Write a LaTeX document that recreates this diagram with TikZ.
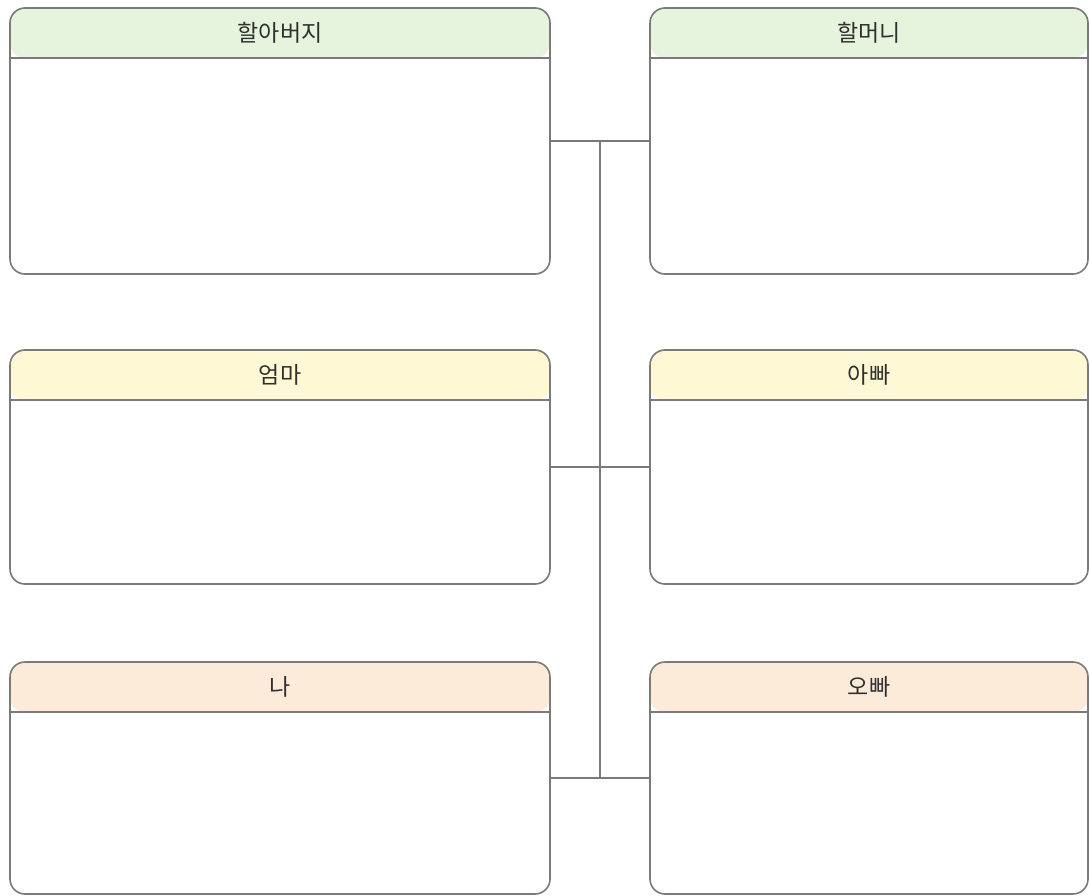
\documentclass[tikz,border=0pt]{standalone}
\usepackage{fontspec}
\newfontfamily\kr{Noto Sans CJK KR}[Scale=1]
\usetikzlibrary{calc}
\definecolor{hgreen}{HTML}{E6F4DE}
\definecolor{hyellow}{HTML}{FFF8D4}
\definecolor{hpeach}{HTML}{FDEBDA}
\definecolor{edge}{HTML}{7A7A7A}
\definecolor{txt}{HTML}{303030}
\tikzset{
  card/.style n args={3}{draw=edge, line width=1.6pt, fill=white, rounded corners=15pt,
    minimum width=#1, minimum height=#2, inner sep=0pt,
    path picture={\fill[#3] (path picture bounding box.north west) rectangle ([yshift=-50pt]path picture bounding box.north east);
      \draw[edge, line width=1.6pt] ([yshift=-50pt]path picture bounding box.north west) -- ([yshift=-50pt]path picture bounding box.north east);}},
  title/.style={font=\kr\fontsize{23}{26}\selectfont, text=txt, anchor=center, inner sep=0pt},
  link/.style={draw=edge, line width=1.4pt}
}
\begin{document}
\begin{tikzpicture}[x=1pt,y=-1pt]
\useasboundingbox (0,0) rectangle (1090,896);
% row 1
\node[card={540pt}{266pt}{hgreen}] (gf) at (280,141) {};
\node[card={438pt}{266pt}{hgreen}] (gm) at (869,141) {};
% row 2
\node[card={540pt}{234pt}{hyellow}] (mom) at (280,467) {};
\node[card={438pt}{234pt}{hyellow}] (dad) at (869,467) {};
% row 3
\node[card={540pt}{232pt}{hpeach}] (me) at (280,778) {};
\node[card={438pt}{232pt}{hpeach}] (bro) at (869,778) {};
% titles
\node[title] (tgf) at ([yshift=-26pt]gf.north) {할아버지};
\node[title] (tgm) at ([yshift=-26pt]gm.north) {할머니};
\node[title] (tmom) at ([yshift=-26pt]mom.north) {엄마};
\node[title] (tdad) at ([yshift=-26pt]dad.north) {아빠};
\node[title] (tme) at ([yshift=-26pt]me.north) {나};
\node[title] (tbro) at ([yshift=-26pt]bro.north) {오빠};
% connectors
\coordinate (j1) at ($(gf.east)!0.5!(gm.west)$);
\coordinate (j3) at ($(me.east)!0.5!(bro.west)$);
\draw[link] (gf.east) -- (gm.west);
\draw[link] (mom.east) -- (dad.west);
\draw[link] (me.east) -- (bro.west);
\draw[link] (j1) -- (j3);
\end{tikzpicture}
\end{document}
